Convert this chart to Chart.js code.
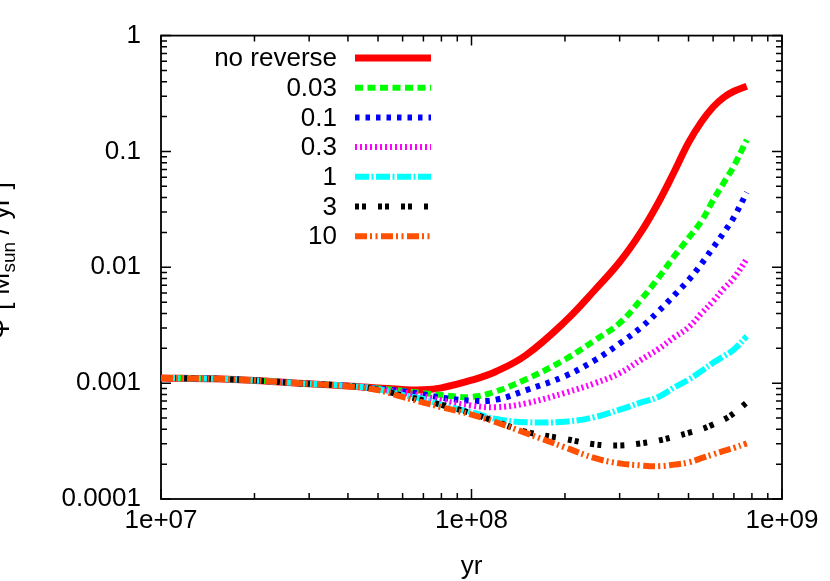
<!DOCTYPE html>
<html>
<head>
<meta charset="utf-8">
<script src="https://cdn.jsdelivr.net/npm/chart.js@4/dist/chart.umd.min.js"></script>
<style>
html,body{margin:0;padding:0;background:#ffffff;}
#wrap{width:830px;height:581px;position:relative;}
</style>
</head>
<body>
<div id="wrap"><canvas id="c"></canvas></div>
<script>
// ---- data ----
const years = [1e7,1.5e7,2e7,3e7,4e7,5e7,6e7,7e7,8e7,1e8,1.2e8,1.5e8,2e8,2.5e8,3e8,3.5e8,4e8,4.5e8,5e8,5.5e8,6e8,6.5e8,7e8,7.7e8];
const seriesLabels = ['no reverse','0.03','0.1','0.3','1','3','10'];
const noReverse = [1.11e-3,1.09e-3,1.056e-3,9.86e-4,9.47e-4,9.1e-4,8.8e-4,8.75e-4,9.1e-4,1.06e-3,1.26e-3,1.75e-3,3.4e-3,6.4e-3,1.11e-2,1.98e-2,3.63e-2,6.71e-2,0.119,0.18,0.242,0.294,0.331,0.366];
const r003 = [1.11e-3,1.09e-3,1.056e-3,9.86e-4,9.47e-4,9.0e-4,8.6e-4,8.2e-4,7.9e-4,7.6e-4,8.5e-4,1.08e-3,1.6e-3,2.35e-3,3.3e-3,5.2e-3,8.1e-3,1.25e-2,1.79e-2,2.5e-2,3.79e-2,5.4e-2,7.5e-2,0.126];
const r01 = [1.11e-3,1.09e-3,1.056e-3,9.86e-4,9.47e-4,8.95e-4,8.5e-4,8.0e-4,7.5e-4,7.05e-4,7.2e-4,8.7e-4,1.15e-3,1.58e-3,2.2e-3,3.0e-3,4.17e-3,5.75e-3,7.76e-3,1.07e-2,1.48e-2,2.0e-2,2.7e-2,4.43e-2];
const r03 = [1.11e-3,1.09e-3,1.056e-3,9.86e-4,9.47e-4,8.9e-4,8.3e-4,7.7e-4,7.1e-4,6.4e-4,6.2e-4,6.7e-4,8.25e-4,1.0e-3,1.22e-3,1.58e-3,1.97e-3,2.49e-3,3.03e-3,4.0e-3,5.1e-3,6.55e-3,8.1e-3,1.18e-2];
const r1 = [1.11e-3,1.09e-3,1.056e-3,9.86e-4,9.47e-4,8.85e-4,7.9e-4,7.3e-4,6.5e-4,5.6e-4,4.9e-4,4.6e-4,4.65e-4,5.1e-4,5.9e-4,6.78e-4,7.6e-4,9.2e-4,1.07e-3,1.27e-3,1.5e-3,1.71e-3,1.95e-3,2.54e-3];
const r3 = [1.11e-3,1.09e-3,1.056e-3,9.86e-4,9.47e-4,8.8e-4,7.8e-4,7.1e-4,6.5e-4,5.5e-4,4.65e-4,3.8e-4,3.3e-4,2.96e-4,2.9e-4,3.02e-4,3.2e-4,3.45e-4,3.72e-4,4.0e-4,4.4e-4,4.85e-4,5.5e-4,6.8e-4];
const r10 = [1.11e-3,1.09e-3,1.056e-3,9.86e-4,9.4e-4,8.7e-4,7.6e-4,6.8e-4,6.2e-4,5.35e-4,4.6e-4,3.7e-4,2.79e-4,2.25e-4,2.03e-4,1.95e-4,1.92e-4,1.98e-4,2.07e-4,2.25e-4,2.43e-4,2.6e-4,2.76e-4,3.02e-4];
const xTickLabels = ['1e+07','1e+08','1e+09'];
const yTickLabels = ['0.0001','0.001','0.01','0.1','1'];
const xTitle = 'yr';
const yTitleParts = ['\u03A8 [ M', 'sun', ' / yr ]'];

// ---- styles ----
const FONT = '"Liberation Sans", Arial, Helvetica, sans-serif';
Chart.defaults.font.family = FONT;
Chart.defaults.font.size = 26;
Chart.defaults.color = '#000000';

const allSeries = [noReverse, r003, r01, r03, r1, r3, r10];
const colors = ['#ff0000','#00ff00','#0000ff','#ff00ff','#00ffff','#000000','#ff4f00'];
const dashes = [[], [8,4.5], [4.5,6], [2,3], [14,2.5,2,2.5], [4,3,4,12], [12,3,2,3.5,2,3.5]];
const widths = [7,6,6,6,6,6,6];

const datasets = allSeries.map((vals, i) => ({
  label: seriesLabels[i],
  data: years.map((x, j) => ({x: x, y: vals[j]})),
  borderColor: colors[i],
  backgroundColor: colors[i],
  borderWidth: widths[i],
  borderDash: dashes[i],
  borderCapStyle: 'butt',
  pointRadius: 0,
  fill: false,
  tension: 0.4,
  order: allSeries.length - 1 - i
}));

function isDecade(v){ const l = Math.log10(v); return Math.abs(l - Math.round(l)) < 1e-9; }
function logTicks(min, max){
  const out = [];
  const d0 = Math.round(Math.log10(min)), d1 = Math.round(Math.log10(max));
  for (let d = d0; d < d1; d++) for (let k = 1; k <= 9; k++) out.push(k * Math.pow(10, d));
  out.push(Math.pow(10, d1));
  return out;
}

const framePlugin = {
  id: 'frame',
  beforeDatasetsDraw(chart){
    const {ctx, chartArea: a, scales} = chart;
    ctx.save();
    ctx.strokeStyle = '#000';
    ctx.lineWidth = 1.8;
    ctx.setLineDash([]);
    ctx.strokeRect(a.left, a.top, a.right - a.left, a.bottom - a.top);
    ctx.lineWidth = 1.5;
    ctx.beginPath();
    logTicks(1e7, 1e9).forEach(v => {
      const px = scales.x.getPixelForValue(v);
      const L = isDecade(v) ? 10 : 6;
      ctx.moveTo(px, a.bottom); ctx.lineTo(px, a.bottom - L);
      ctx.moveTo(px, a.top); ctx.lineTo(px, a.top + L);
    });
    logTicks(1e-4, 1).forEach(v => {
      const py = scales.y.getPixelForValue(v);
      const L = isDecade(v) ? 10 : 6;
      ctx.moveTo(a.left, py); ctx.lineTo(a.left + L, py);
      ctx.moveTo(a.right, py); ctx.lineTo(a.right - L, py);
    });
    ctx.stroke();
    ctx.restore();
  },
  afterDatasetsDraw(chart){
    const {ctx, chartArea: a} = chart;
    ctx.save();
    // legend (gnuplot style: label right-aligned, sample to the right)
    chart.data.datasets.forEach((ds, i) => {
      const y = 58 + i * 29.7;
      ctx.font = '26px ' + FONT;
      ctx.fillStyle = '#000';
      ctx.textAlign = 'right';
      ctx.textBaseline = 'middle';
      ctx.fillText(ds.label, 337, y + 1);
      ctx.strokeStyle = ds.borderColor;
      ctx.lineWidth = ds.borderWidth;
      ctx.lineCap = 'butt';
      ctx.setLineDash(ds.borderDash);
      ctx.beginPath();
      ctx.moveTo(355, y); ctx.lineTo(431, y);
      ctx.stroke();
    });
    ctx.setLineDash([]);
    // x axis title
    ctx.fillStyle = '#000';
    ctx.font = '26px ' + FONT;
    ctx.textAlign = 'center';
    ctx.textBaseline = 'middle';
    ctx.fillText(xTitle, (a.left + a.right) / 2, 567);
    // y axis title (rotated, with subscript)
    const mainFont = '27px ' + FONT, subFont = '19px ' + FONT;
    ctx.font = mainFont; const w0 = ctx.measureText(yTitleParts[0]).width;
    const w2 = ctx.measureText(yTitleParts[2]).width;
    ctx.font = subFont; const w1 = ctx.measureText(yTitleParts[1]).width;
    const total = w0 + w1 + w2;
    ctx.translate(9, 261);
    ctx.rotate(-Math.PI / 2);
    ctx.textAlign = 'left';
    ctx.textBaseline = 'alphabetic';
    let x = -total / 2;
    ctx.font = mainFont; ctx.fillText(yTitleParts[0], x, 0); x += w0;
    ctx.font = subFont; ctx.fillText(yTitleParts[1], x, 6); x += w1;
    ctx.font = mainFont; ctx.fillText(yTitleParts[2], x, 0);
    ctx.restore();
  }
};

new Chart(document.getElementById('c'), {
  type: 'line',
  data: { datasets: datasets },
  options: {
    responsive: true,
    maintainAspectRatio: false,
    animation: false,
    layout: { padding: { top: 32, right: 48, left: 0, bottom: 0 } },
    plugins: { legend: { display: false }, tooltip: { enabled: false } },
    scales: {
      x: {
        type: 'logarithmic',
        min: 1e7, max: 1e9,
        grid: { display: false, drawTicks: false },
        border: { display: false },
        afterBuildTicks(s){ s.ticks = logTicks(1e7, 1e9).map(v => ({value: v, major: isDecade(v)})); },
        afterFit(s){ s.height = 82; },
        ticks: {
          autoSkip: false, maxRotation: 0, minRotation: 0, padding: 6,
          font: { size: 26 }, color: '#000',
          callback(v){ return isDecade(v) ? xTickLabels[Math.round(Math.log10(v)) - 7] : ''; }
        }
      },
      y: {
        type: 'logarithmic',
        min: 1e-4, max: 1,
        grid: { display: false, drawTicks: false },
        border: { display: false },
        afterBuildTicks(s){ s.ticks = logTicks(1e-4, 1).map(v => ({value: v, major: isDecade(v)})); },
        afterFit(s){ s.width = 161; },
        ticks: {
          autoSkip: false, padding: 20,
          font: { size: 26 }, color: '#000',
          callback(v){ return isDecade(v) ? yTickLabels[Math.round(Math.log10(v)) + 4] : ''; }
        }
      }
    }
  },
  plugins: [framePlugin]
});
</script>
</body>
</html>
